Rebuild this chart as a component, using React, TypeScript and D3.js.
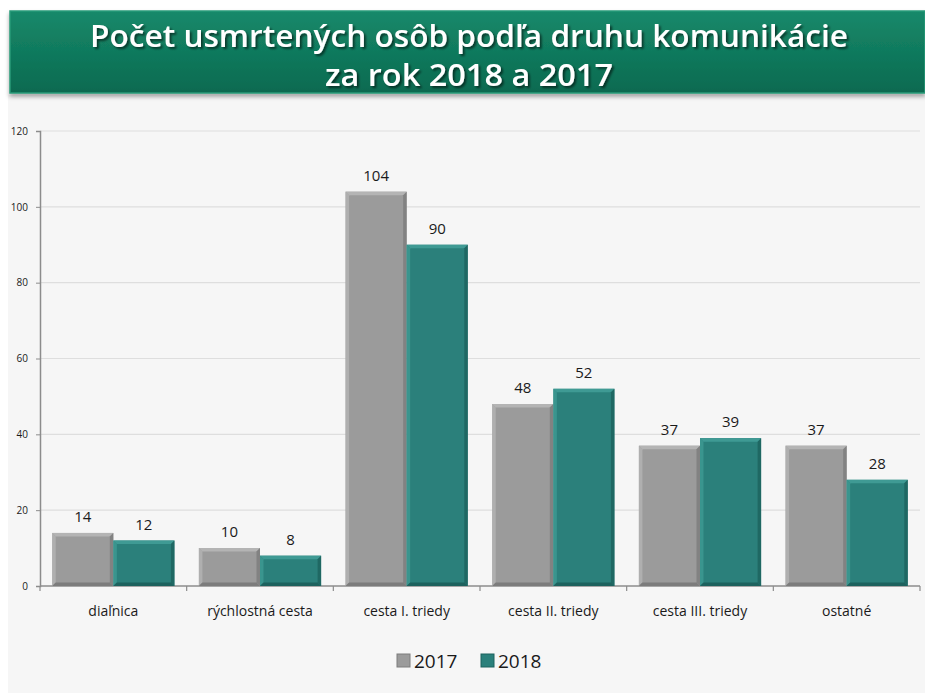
import React, { useEffect, useRef } from 'react';
import * as d3 from 'd3';

const categories = ['diaľnica', 'rýchlostná cesta', 'cesta I. triedy', 'cesta II. triedy', 'cesta III. triedy', 'ostatné'];
const values2017 = [14, 10, 104, 48, 37, 37];
const values2018 = [12, 8, 90, 52, 39, 28];
const seriesNames = ['2017', '2018'];
const yTicks = [0, 20, 40, 60, 80, 100, 120];

const W = 925;
const H = 693;

const seriesColors = [
  { base: '#9b9b9b', light: '#b4b4b4', dark: '#7c7c7c' },
  { base: '#2b807b', light: '#3f9a94', dark: '#1d625e' }
];

const App: React.FC = () => {
  const svgRef = useRef<SVGSVGElement>(null);

  useEffect(() => {
    if (!svgRef.current) return;
    const svg = d3.select(svgRef.current);
    svg.selectAll('*').remove();

    const defs = svg.append('defs');
    const grad = defs.append('linearGradient').attr('id', 'banner').attr('x1', 0).attr('y1', 0).attr('x2', 0).attr('y2', 1);
    grad.append('stop').attr('offset', '0%').attr('stop-color', '#16896a');
    grad.append('stop').attr('offset', '100%').attr('stop-color', '#0b6a50');
    const shadow = defs.append('filter').attr('id', 'tshadow').attr('x', '-5%').attr('y', '-20%').attr('width', '110%').attr('height', '150%');
    shadow.append('feDropShadow').attr('dx', 2).attr('dy', 2).attr('stdDeviation', 1.2).attr('flood-color', '#000').attr('flood-opacity', 0.55);
    const bshadow = defs.append('filter').attr('id', 'bshadow').attr('x', '-5%').attr('y', '-20%').attr('width', '110%').attr('height', '160%');
    bshadow.append('feDropShadow').attr('dx', 0).attr('dy', 3).attr('stdDeviation', 2).attr('flood-color', '#000').attr('flood-opacity', 0.35);

    // page background
    svg.append('rect').attr('width', W).attr('height', H).attr('fill', '#ffffff');
    svg.append('rect').attr('x', 8).attr('y', 95).attr('width', W - 8).attr('height', H - 95).attr('fill', '#f6f6f6');

    // title banner
    svg.append('rect').attr('x', 10).attr('y', 11).attr('width', W - 10).attr('height', 82)
      .attr('fill', 'url(#banner)').attr('stroke', '#2a9a78').attr('stroke-width', 1.5).attr('filter', 'url(#bshadow)');
    const title = svg.append('g').attr('filter', 'url(#tshadow)')
      .style('font-family', '"Open Sans", sans-serif').style('font-weight', 600).style('font-size', '30px')
      .attr('fill', '#ffffff').attr('text-anchor', 'middle');
    title.append('text').attr('x', 469).attr('y', 47).attr('textLength', 758).attr('lengthAdjust', 'spacingAndGlyphs')
      .text('Počet usmrtených osôb podľa druhu komunikácie');
    title.append('text').attr('x', 469).attr('y', 86).attr('textLength', 288).attr('lengthAdjust', 'spacingAndGlyphs')
      .text('za rok 2018 a 2017');

    const left = 40, right = 920, top = 131, bottom = 586;
    const x = d3.scaleBand<string>().domain(categories).range([left, right]);
    const x1 = d3.scaleBand<string>().domain(seriesNames).range([0, x.bandwidth()]).paddingOuter(0.2).paddingInner(0);
    const y = d3.scaleLinear().domain([0, 120]).range([bottom, top]);

    // gridlines
    svg.append('g').selectAll('line').data(yTicks.slice(1)).enter().append('line')
      .attr('x1', left).attr('x2', right).attr('y1', d => y(d)).attr('y2', d => y(d))
      .attr('stroke', '#dedede').attr('stroke-width', 1.2);

    // y axis
    const yAxis = svg.append('g').attr('transform', `translate(${left},0)`)
      .call(d3.axisLeft(y).tickValues(yTicks).tickSize(4).tickPadding(8));
    yAxis.select('.domain').attr('stroke', '#8c8c8c').attr('stroke-width', 1.5);
    yAxis.selectAll('.tick line').attr('stroke', '#8c8c8c');
    yAxis.selectAll('.tick text').style('font-family', '"Open Sans", sans-serif').style('font-size', '10px').attr('fill', '#1a1a1a');

    // x axis
    svg.append('line').attr('x1', left).attr('x2', right).attr('y1', bottom).attr('y2', bottom)
      .attr('stroke', '#8c8c8c').attr('stroke-width', 1.5);
    const bounds = categories.map(c => (x(c) || 0) + x.bandwidth()).concat([left]);
    svg.append('g').selectAll('line').data(bounds).enter().append('line')
      .attr('x1', d => d).attr('x2', d => d).attr('y1', bottom).attr('y2', bottom + 5)
      .attr('stroke', '#8c8c8c').attr('stroke-width', 1.2);
    svg.append('g').selectAll('text').data(categories).enter().append('text')
      .attr('x', d => (x(d) || 0) + x.bandwidth() / 2).attr('y', 616)
      .attr('text-anchor', 'middle').style('font-family', '"Open Sans", sans-serif').style('font-size', '14px')
      .attr('fill', '#1a1a1a').text(d => d);

    // bars
    const series = [values2017, values2018];
    const b = 3.5;
    series.forEach((vals, si) => {
      const col = seriesColors[si];
      const g = svg.append('g');
      categories.forEach((c, ci) => {
        const bx = (x(c) || 0) + (x1(seriesNames[si]) || 0);
        const bw = x1.bandwidth();
        const by = y(vals[ci]);
        const bh = bottom - by;
        g.append('rect').attr('x', bx).attr('y', by).attr('width', bw).attr('height', bh).attr('fill', col.base);
        const x0 = bx, x2 = bx + bw, y0 = by, y2 = by + bh;
        g.append('polygon').attr('points', `${x0},${y0} ${x2},${y0} ${x2 - b},${y0 + b} ${x0 + b},${y0 + b}`).attr('fill', col.light);
        g.append('polygon').attr('points', `${x0},${y0} ${x0 + b},${y0 + b} ${x0 + b},${y2 - b} ${x0},${y2}`).attr('fill', col.light).attr('opacity', 0.8);
        g.append('polygon').attr('points', `${x2},${y0} ${x2},${y2} ${x2 - b},${y2 - b} ${x2 - b},${y0 + b}`).attr('fill', col.dark).attr('opacity', 0.8);
        g.append('polygon').attr('points', `${x0},${y2} ${x2},${y2} ${x2 - b},${y2 - b} ${x0 + b},${y2 - b}`).attr('fill', col.dark);
        g.append('text').attr('x', bx + bw / 2).attr('y', by - 11).attr('text-anchor', 'middle')
          .style('font-family', '"Open Sans", sans-serif').style('font-size', '15px').attr('fill', '#1a1a1a')
          .text(vals[ci]);
      });
    });

    // legend
    const legend = svg.append('g');
    const legendItems = [{ x: 397, name: seriesNames[0] }, { x: 481, name: seriesNames[1] }];
    legendItems.forEach((it, i) => {
      const col = seriesColors[i];
      legend.append('rect').attr('x', it.x).attr('y', 654).attr('width', 13).attr('height', 13).attr('fill', col.base)
        .attr('stroke', col.dark).attr('stroke-width', 1);
      legend.append('text').attr('x', it.x + 17).attr('y', 668)
        .style('font-family', '"Open Sans", sans-serif').style('font-size', '19px').attr('fill', '#1a1a1a').text(it.name);
    });
  }, []);

  return (
    <svg ref={svgRef} width={W} height={H} style={{ position: 'absolute', left: 0, top: 0, display: 'block' }} />
  );
};

export default App;
